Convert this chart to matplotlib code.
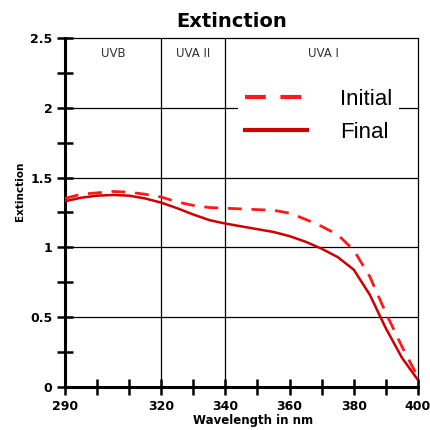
import numpy as np
import matplotlib
matplotlib.use('Agg')
import matplotlib.pyplot as plt

# wavelengths (nm) and extinction
wl = [290, 295, 300, 305, 310, 315, 320, 325, 330, 335, 340, 345, 350, 355, 360,
      365, 370, 375, 380, 385, 390, 395, 400]
initial = [1.35, 1.38, 1.39, 1.40, 1.395, 1.38, 1.36, 1.325, 1.30, 1.285, 1.28, 1.275, 1.27,
           1.265, 1.245, 1.20, 1.15, 1.09, 0.98, 0.79, 0.53, 0.29, 0.07]
final = [1.33, 1.355, 1.37, 1.375, 1.37, 1.35, 1.32, 1.28, 1.235, 1.195, 1.17, 1.15, 1.13,
         1.11, 1.08, 1.04, 0.99, 0.93, 0.84, 0.66, 0.42, 0.21, 0.05]

regions = ['UVB', 'UVA II', 'UVA I']
region_centres = [305, 330, 370.5]
region_edges = [320, 340]
hgrid = [0.5, 1.0, 1.5, 2.0]
xtick_labels = [290, 320, 340, 360, 380, 400]

fig = plt.figure(figsize=(4.3, 4.3), dpi=100)
ax = fig.add_axes([0.151, 0.1, 0.821, 0.812])

for y in hgrid:
    ax.axhline(y, color='black', lw=0.9, zorder=1)
for x in region_edges:
    ax.axvline(x, color='black', lw=0.9, zorder=1)

ax.plot(wl, initial, color='#ff1a1a', lw=2, dashes=(5, 3.5), label='Initial', zorder=3)
ax.plot(wl, final, color='#cc0000', lw=1.8, label='Final', zorder=3)

for name, xc in zip(regions, region_centres):
    ax.text(xc, 2.39, name, ha='center', va='center', fontsize=8.5, color='#333333')

ax.set_xlim(290, 400)
ax.set_ylim(0, 2.5)
ax.set_xticks(np.arange(290, 401, 10))
ax.set_xticklabels([str(t) if t in xtick_labels else '' for t in range(290, 401, 10)])
ax.set_yticks([0, 0.5, 1, 1.5, 2, 2.5])
ax.set_yticklabels(['0', '0.5', '1', '1.5', '2', '2.5'])
ax.set_yticks(np.arange(0.25, 2.5, 0.5), minor=True)
ax.tick_params(axis='both', which='both', direction='inout', length=12, width=1.8,
               labelsize=9)
ax.tick_params(axis='both', which='major', pad=3)
for lab in ax.get_xticklabels() + ax.get_yticklabels():
    lab.set_fontweight('bold')

ax.spines['left'].set_linewidth(2.2)
ax.spines['bottom'].set_linewidth(2.2)
ax.spines['top'].set_linewidth(0.9)
ax.spines['right'].set_linewidth(0.9)

ax.set_title('Extinction', fontsize=14, fontweight='bold', pad=8, x=0.473)
ax.set_xlabel('Wavelength in nm', fontsize=8.5, fontweight='bold', labelpad=1, x=0.533)
ax.set_ylabel('Extinction', fontsize=7.5, fontweight='bold', labelpad=4, y=0.56)

leg = ax.legend(loc='upper left', bbox_to_anchor=(0.49, 0.872), frameon=True,
                prop={'family': 'Liberation Sans', 'size': 16},
                handlelength=2.8, handletextpad=1.5,
                labelspacing=0.53, borderaxespad=0, borderpad=0.3, framealpha=1)
leg.get_frame().set_facecolor('white')
leg.get_frame().set_edgecolor('none')
for line in leg.get_lines():
    line.set_linewidth(3)

fig.savefig('out.png', dpi=100)
